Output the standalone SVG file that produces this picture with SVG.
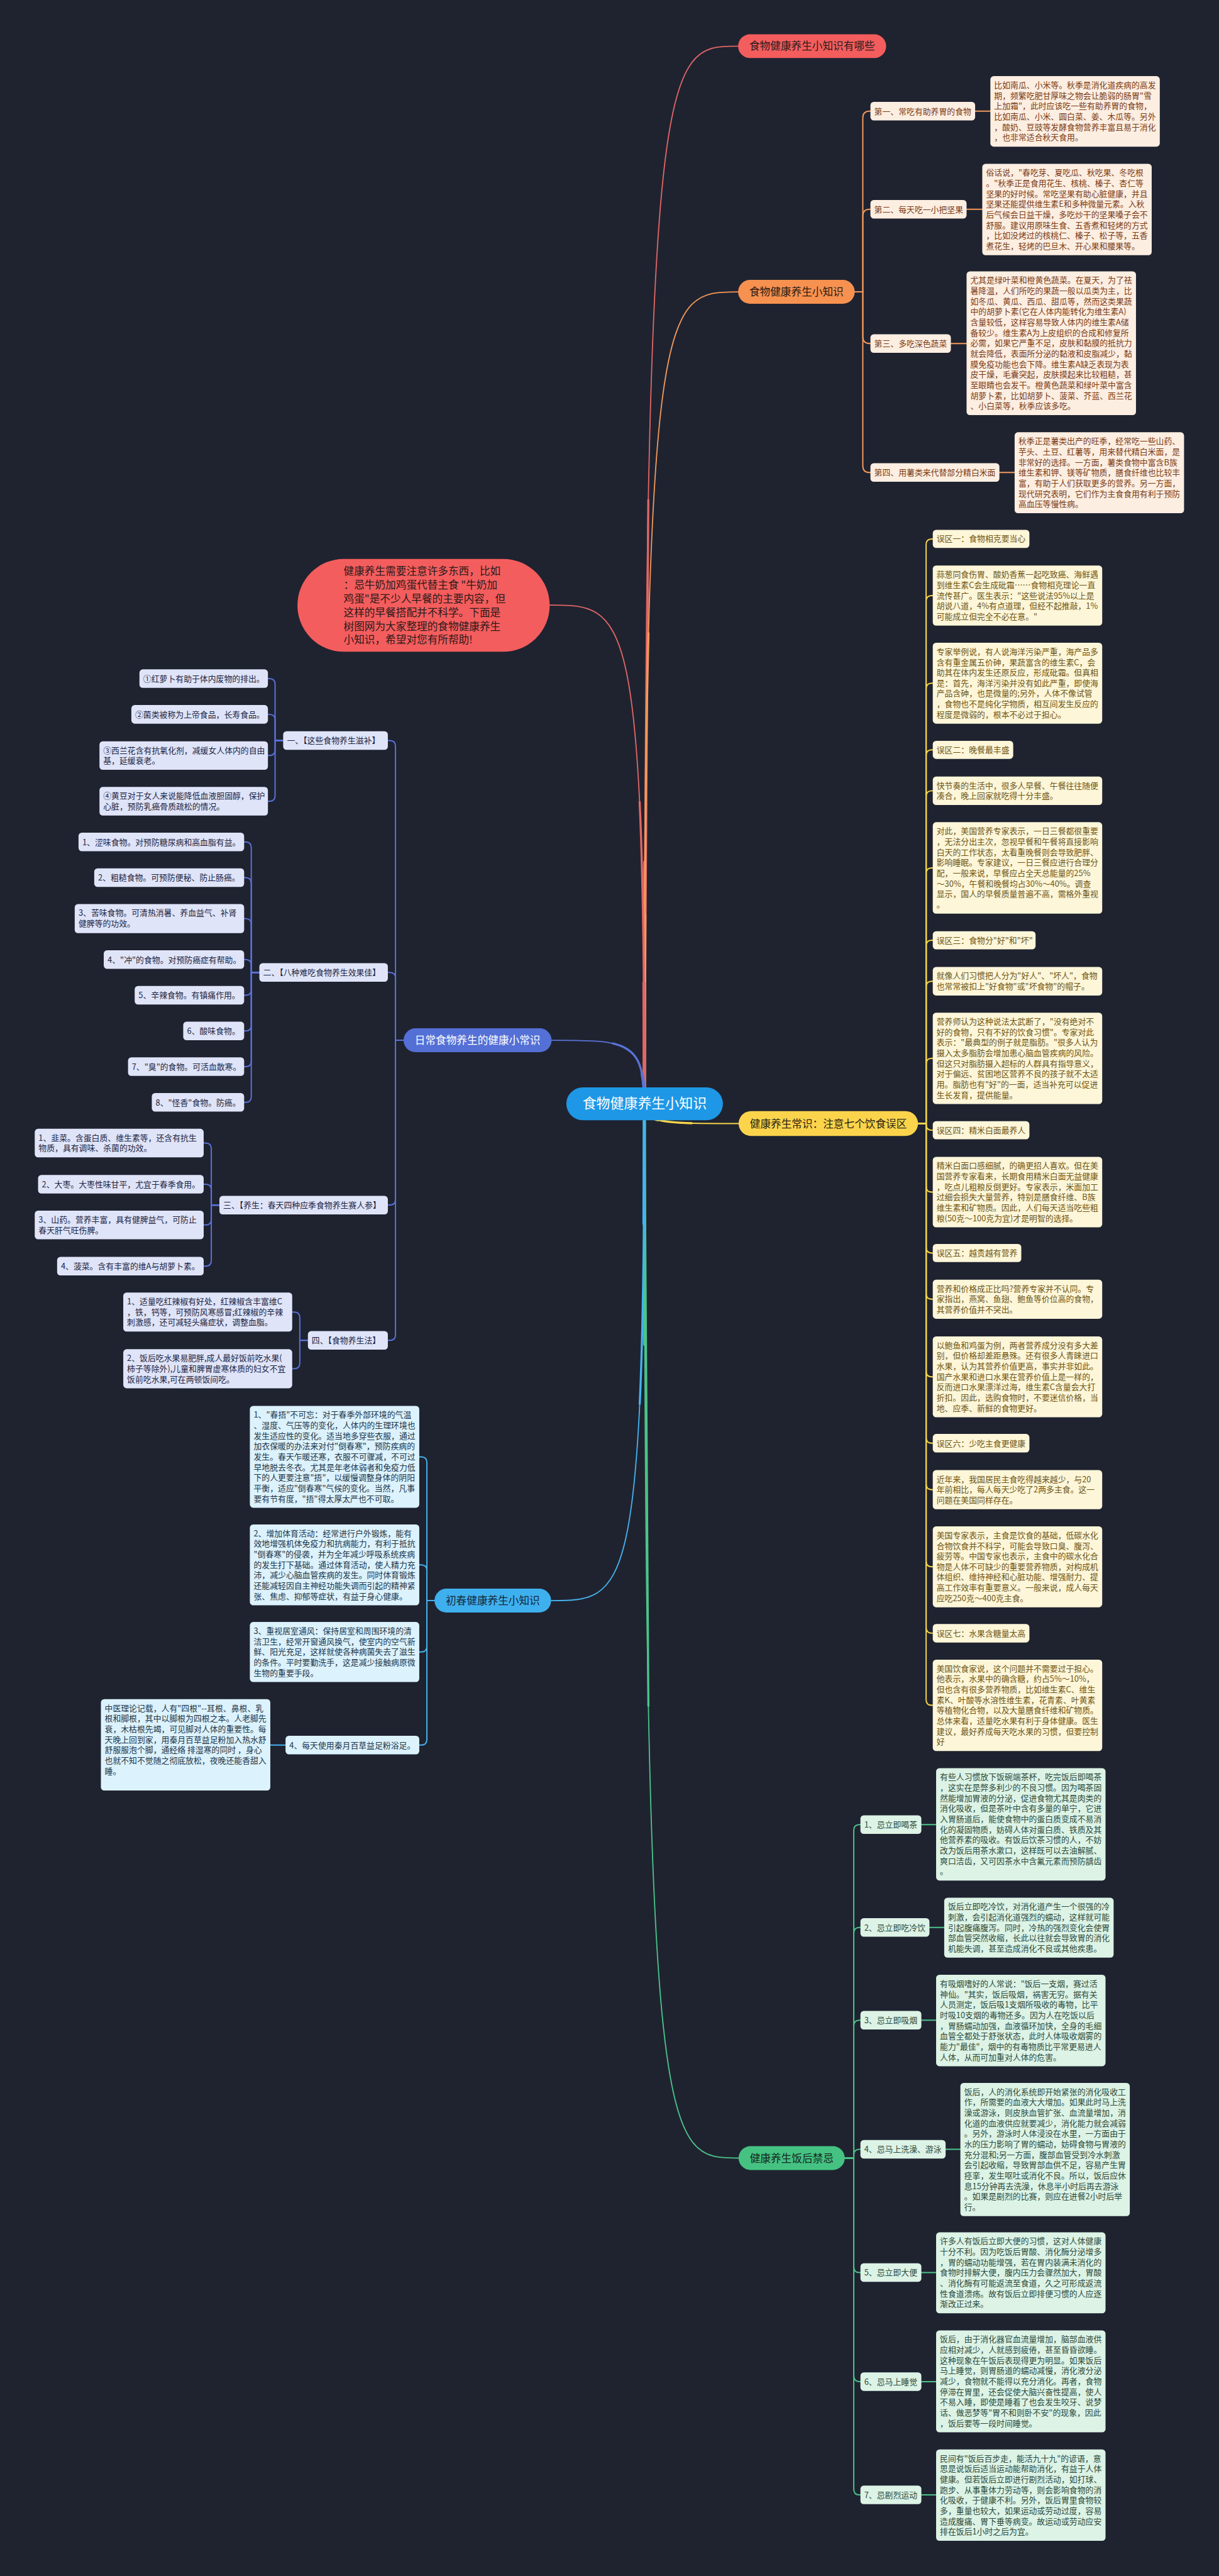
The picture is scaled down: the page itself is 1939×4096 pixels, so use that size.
<svg xmlns="http://www.w3.org/2000/svg" width="1939" height="4096" viewBox="0 0 1939 4096">
<defs>
<style>
text{font-family:"Noto Sans CJK SC","Noto Sans",sans-serif}
.s{font-size:17px}
.m{font-size:22px}
.ln{fill:none;stroke-linecap:round;stroke-linejoin:round}
.L2{stroke-width:2.6}
.w1{stroke-width:2.4}
.w2{stroke-width:4.4;stroke-dasharray:55 200}
.w3{stroke-width:6.5;stroke-dasharray:22 200}
.cr{stroke:#e06666}.co{stroke:#f3995a}.cy{stroke:#f6d54a}.cg{stroke:#4cc489}.cbl{stroke:#5a73d8}.cc{stroke:#45b3ee}
.ob{fill:#fdeee2}.ot{fill:#7a3b12}
.yb{fill:#fdf6d9}.yt{fill:#6d5513}
.gb{fill:#dcf3e6}.gt{fill:#2c4a3b}
.bb{fill:#dfe4f8}.bt{fill:#1d2442}
.cb{fill:#dcf2fd}.ct{fill:#1b3548}
</style>
<path id="m1" pathLength="100" d="M1354 2318 C1354 97 1393 97 1551 97"/>
<path id="m2" pathLength="100" d="M1354 2318 C1354 613 1393 613 1551 613"/>
<path id="m3" pathLength="100" d="M1354 2318 C1354 2360 1394 2360 1552 2360"/>
<path id="m4" pathLength="100" d="M1354 2318 C1354 4533 1394 4533 1552 4533"/>
<path id="m5" pathLength="100" d="M1354 2318 C1354 1271 1314 1271 1155 1271"/>
<path id="m6" pathLength="100" d="M1354 2318 C1354 2185 1315 2185 1159 2185"/>
<path id="m7" pathLength="100" d="M1354 2318 C1354 3362 1315 3362 1158 3362"/>
</defs>
<rect width="1939" height="4096" fill="#1f2330"/>
<g transform="scale(0.757)">
<g id="connectors">
<use href="#m1" class="ln cr w1"/><use href="#m1" class="ln cr w2"/><use href="#m1" class="ln cr w3"/>
<use href="#m2" class="ln co w1"/><use href="#m2" class="ln co w2"/><use href="#m2" class="ln co w3"/>
<use href="#m3" class="ln cy w1"/><use href="#m3" class="ln cy w2"/><use href="#m3" class="ln cy w3"/>
<use href="#m4" class="ln cg w1"/><use href="#m4" class="ln cg w2"/><use href="#m4" class="ln cg w3"/>
<use href="#m5" class="ln cr w1"/><use href="#m5" class="ln cr w2"/><use href="#m5" class="ln cr w3"/>
<use href="#m6" class="ln cbl w1"/><use href="#m6" class="ln cbl w2"/><use href="#m6" class="ln cbl w3"/>
<use href="#m7" class="ln cc w1"/><use href="#m7" class="ln cc w2"/><use href="#m7" class="ln cc w3"/>
<g class="ln L2 co">
<path d="M1796 613 H1813 V247.5 Q1813 233.5 1827 233.5 H1829"/>
<path d="M1796 613 H1813 V453.5 Q1813 439.5 1827 439.5 H1829"/>
<path d="M1796 613 H1813 V707.5 Q1813 721.5 1827 721.5 H1829"/>
<path d="M1796 613 H1813 V978.5 Q1813 992.5 1827 992.5 H1829"/>
<path d="M2049 233.5 H2081 M2031 439.5 H2064 M1998 721.5 H2031 M2100 992.5 H2132"/>
</g>
<g class="ln L2 cy">
<path d="M1929 2360 H1946 V1144 Q1946 1132 1958 1132 H1960"/>
<path d="M1929 2360 H1946 V1263 Q1946 1251 1958 1251 H1960"/>
<path d="M1929 2360 H1946 V1447 Q1946 1435 1958 1435 H1960"/>
<path d="M1929 2360 H1946 V1587 Q1946 1575 1958 1575 H1960"/>
<path d="M1929 2360 H1946 V1673 Q1946 1661 1958 1661 H1960"/>
<path d="M1929 2360 H1946 V1835 Q1946 1823 1958 1823 H1960"/>
<path d="M1929 2360 H1946 V1987 Q1946 1975 1958 1975 H1960"/>
<path d="M1929 2360 H1946 V2073 Q1946 2061 1958 2061 H1960"/>
<path d="M1929 2360 H1946 V2235 Q1946 2223 1958 2223 H1960"/>
<path d="M1929 2360 H1946 V2362 Q1946 2374 1958 2374 H1960"/>
<path d="M1929 2360 H1946 V2492 Q1946 2504 1958 2504 H1960"/>
<path d="M1929 2360 H1946 V2620 Q1946 2632 1958 2632 H1960"/>
<path d="M1929 2360 H1946 V2717 Q1946 2729 1958 2729 H1960"/>
<path d="M1929 2360 H1946 V2880 Q1946 2892 1958 2892 H1960"/>
<path d="M1929 2360 H1946 V3019.5 Q1946 3031.5 1958 3031.5 H1960"/>
<path d="M1929 2360 H1946 V3117 Q1946 3129 1958 3129 H1960"/>
<path d="M1929 2360 H1946 V3279 Q1946 3291 1958 3291 H1960"/>
<path d="M1929 2360 H1946 V3418.5 Q1946 3430.5 1958 3430.5 H1960"/>
<path d="M1929 2360 H1946 V3570 Q1946 3582 1958 3582 H1960"/>
</g>
<g class="ln L2 cg">
<path d="M1775 4533 H1794 V3844.5 Q1794 3832.5 1806 3832.5 H1808"/>
<path d="M1775 4533 H1794 V4060.5 Q1794 4048.5 1806 4048.5 H1808"/>
<path d="M1775 4533 H1794 V4255.5 Q1794 4243.5 1806 4243.5 H1808"/>
<path d="M1775 4533 H1794 V4526.5 Q1794 4514.5 1806 4514.5 H1808"/>
<path d="M1775 4533 H1794 V4761.5 Q1794 4773.5 1806 4773.5 H1808"/>
<path d="M1775 4533 H1794 V4990.5 Q1794 5002.5 1806 5002.5 H1808"/>
<path d="M1775 4533 H1794 V5228.5 Q1794 5240.5 1806 5240.5 H1808"/>
<path d="M1936 3832.5 H1967 M1953 4048.5 H1984 M1936 4243.5 H1967 M1987 4514.5 H2018 M1936 4773.5 H1967 M1936 5002.5 H1967 M1936 5240.5 H1967"/>
</g>
<g class="ln L2 cbl">
<path d="M848 2185 H831 V1567.5 Q831 1555.5 819 1555.5 H815"/>
<path d="M848 2185 H831 V2054.5 Q831 2042.5 819 2042.5 H815"/>
<path d="M848 2185 H831 V2519 Q831 2531 819 2531 H815"/>
<path d="M848 2185 H831 V2803.5 Q831 2815.5 819 2815.5 H815"/>
<path d="M595 1555.5 H578 V1437.5 Q578 1425.5 566 1425.5 H563"/>
<path d="M595 1555.5 H578 V1512.5 Q578 1500.5 566 1500.5 H563"/>
<path d="M595 1555.5 H578 V1575 Q578 1587 566 1587 H563"/>
<path d="M595 1555.5 H578 V1671 Q578 1683 566 1683 H563"/>
<path d="M545 2042.5 H528 V1780.5 Q528 1768.5 516 1768.5 H513"/>
<path d="M545 2042.5 H528 V1855.5 Q528 1843.5 516 1843.5 H513"/>
<path d="M545 2042.5 H528 V1941.5 Q528 1929.5 516 1929.5 H513"/>
<path d="M545 2042.5 H528 V2027.5 Q528 2015.5 516 2015.5 H513"/>
<path d="M545 2042.5 H528 V2078.5 Q528 2090.5 516 2090.5 H513"/>
<path d="M545 2042.5 H528 V2153.5 Q528 2165.5 516 2165.5 H513"/>
<path d="M545 2042.5 H528 V2228.5 Q528 2240.5 516 2240.5 H513"/>
<path d="M545 2042.5 H528 V2303.5 Q528 2315.5 516 2315.5 H513"/>
<path d="M461 2531.5 H444 V2413 Q444 2401 432 2401 H428"/>
<path d="M461 2531.5 H444 V2499.5 Q444 2487.5 432 2487.5 H428"/>
<path d="M461 2531.5 H444 V2561 Q444 2573 432 2573 H428"/>
<path d="M461 2531.5 H444 V2647.5 Q444 2659.5 432 2659.5 H428"/>
<path d="M647 2815.5 H630 V2768 Q630 2756 618 2756 H614"/>
<path d="M647 2815.5 H630 V2863 Q630 2875 618 2875 H614"/>
</g>
<g class="ln L2 cc">
<path d="M913 3362 H897 V3072 Q897 3060 885 3060 H881"/>
<path d="M913 3362 H897 V3299 Q897 3287 885 3287 H881"/>
<path d="M913 3362 H897 V3458 Q897 3470 885 3470 H881"/>
<path d="M913 3362 H897 V3653.5 Q897 3665.5 885 3665.5 H881"/>
<path d="M600 3665.5 H568"/>
</g>
</g>

<g id="center">
<rect x="1190" y="2284" width="329" height="69" rx="34.5" fill="#1e98e6"/>
<text x="1354.5" y="2328" font-size="29" fill="#ffffff" text-anchor="middle">食物健康养生小知识</text>
</g>

<g id="intro">
<rect x="625" y="1174" width="530" height="195" rx="97.5" fill="#f45d5d"/>
<text class="m" fill="#2b1a1a">
<tspan x="722" y="1208">健康养生需要注意许多东西，比如</tspan>
<tspan x="722" y="1237">：忌牛奶加鸡蛋代替主食 "牛奶加</tspan>
<tspan x="722" y="1265">鸡蛋"是不少人早餐的主要内容，但</tspan>
<tspan x="722" y="1294">这样的早餐搭配并不科学。下面是</tspan>
<tspan x="722" y="1323">树图网为大家整理的食物健康养生</tspan>
<tspan x="722" y="1351">小知识，希望对您有所帮助!</tspan>
</text>
</g>

<g id="branch-red">
<rect x="1551" y="72" width="311" height="50" rx="25" fill="#f45d5d"/>
<text class="m" x="1706.5" y="105" text-anchor="middle" fill="#2b1a1a">食物健康养生小知识有哪些</text>
</g>

<g id="branch-orange">
<rect x="1551" y="588" width="245" height="50" rx="25" fill="#f79150"/>
<text class="m" x="1673.5" y="621" text-anchor="middle" fill="#2b1a10">食物健康养生小知识</text>
</g>
<g id="o1l"><rect class="ob" x="1829" y="214" width="220" height="39" rx="7"/><text class="s ot" x="1837" y="240">第一、常吃有助养胃的食物</text></g>
<g id="o1b"><rect class="ob" x="2081" y="160" width="356" height="148" rx="7"/><text class="s ot">
<tspan x="2089" y="185">比如南瓜、小米等。秋季是消化道疾病的高发</tspan>
<tspan x="2089" y="207">期，频繁吃肥甘厚味之物会让脆弱的肠胃"雪</tspan>
<tspan x="2089" y="229">上加霜"，此时应该吃一些有助养胃的食物，</tspan>
<tspan x="2089" y="251">比如南瓜、小米、圆白菜、姜、木瓜等。另外</tspan>
<tspan x="2089" y="273">，酸奶、豆豉等发酵食物营养丰富且易于消化</tspan>
<tspan x="2089" y="295">，也非常适合秋天食用。</tspan></text></g>
<g id="o2l"><rect class="ob" x="1829" y="420" width="202" height="39" rx="7"/><text class="s ot" x="1837" y="446">第二、每天吃一小把坚果</text></g>
<g id="o2b"><rect class="ob" x="2064" y="344" width="356" height="192" rx="7"/><text class="s ot">
<tspan x="2072" y="369">俗话说，"春吃芽、夏吃瓜、秋吃果、冬吃根</tspan>
<tspan x="2072" y="391">。"秋季正是食用花生、核桃、榛子、杏仁等</tspan>
<tspan x="2072" y="413">坚果的好时候。常吃坚果有助心脏健康，并且</tspan>
<tspan x="2072" y="435">坚果还能提供维生素E和多种微量元素。入秋</tspan>
<tspan x="2072" y="457">后气候会日益干燥，多吃炒干的坚果嗓子会不</tspan>
<tspan x="2072" y="479">舒服。建议用原味生食、五香煮和轻烤的方式</tspan>
<tspan x="2072" y="501">，比如没烤过的核桃仁、榛子、松子等，五香</tspan>
<tspan x="2072" y="523">煮花生，轻烤的巴旦木、开心果和腰果等。</tspan></text></g>
<g id="o3l"><rect class="ob" x="1829" y="702" width="169" height="39" rx="7"/><text class="s ot" x="1837" y="728">第三、多吃深色蔬菜</text></g>
<g id="o3b"><rect class="ob" x="2031" y="570" width="356" height="302" rx="7"/><text class="s ot">
<tspan x="2039" y="595">尤其是绿叶菜和橙黄色蔬菜。在夏天，为了祛</tspan>
<tspan x="2039" y="617">暑降温，人们所吃的果蔬一般以瓜类为主，比</tspan>
<tspan x="2039" y="639">如冬瓜、黄瓜、西瓜、甜瓜等，然而这类果蔬</tspan>
<tspan x="2039" y="661">中的胡萝卜素(它在人体内能转化为维生素A)</tspan>
<tspan x="2039" y="683">含量较低，这样容易导致人体内的维生素A储</tspan>
<tspan x="2039" y="705">备较少。维生素A为上皮组织的合成和修复所</tspan>
<tspan x="2039" y="727">必需，如果它严重不足，皮肤和黏膜的抵抗力</tspan>
<tspan x="2039" y="749">就会降低，表面所分泌的黏液和皮脂减少，黏</tspan>
<tspan x="2039" y="771">膜免疫功能也会下降。维生素A缺乏表现为表</tspan>
<tspan x="2039" y="793">皮干燥，毛囊突起，皮肤摸起来比较粗糙，甚</tspan>
<tspan x="2039" y="815">至眼睛也会发干。橙黄色蔬菜和绿叶菜中富含</tspan>
<tspan x="2039" y="837">胡萝卜素，比如胡萝卜、菠菜、芥蓝、西兰花</tspan>
<tspan x="2039" y="859">、小白菜等，秋季应该多吃。</tspan></text></g>
<g id="o4l"><rect class="ob" x="1829" y="973" width="271" height="39" rx="7"/><text class="s ot" x="1837" y="999">第四、用薯类来代替部分精白米面</text></g>
<g id="o4b"><rect class="ob" x="2132" y="908" width="356" height="170" rx="7"/><text class="s ot">
<tspan x="2140" y="933">秋季正是薯类出产的旺季，经常吃一些山药、</tspan>
<tspan x="2140" y="955">芋头、土豆、红薯等，用来替代精白米面，是</tspan>
<tspan x="2140" y="977">非常好的选择。一方面，薯类食物中富含B族</tspan>
<tspan x="2140" y="999">维生素和钾、镁等矿物质，膳食纤维也比较丰</tspan>
<tspan x="2140" y="1021">富，有助于人们获取更多的营养。另一方面，</tspan>
<tspan x="2140" y="1043">现代研究表明，它们作为主食食用有利于预防</tspan>
<tspan x="2140" y="1065">高血压等慢性病。</tspan></text></g>

<g id="branch-yellow">
<rect x="1552" y="2334" width="377" height="52" rx="26" fill="#fbd44c"/>
<text class="m" x="1740.5" y="2368" text-anchor="middle" fill="#2b2410">健康养生常识：注意七个饮食误区</text>
</g>
<g id="y1l"><rect class="yb" x="1960" y="1113" width="203" height="38" rx="7"/><text class="s yt" x="1968" y="1138">误区一：食物相克要当心</text></g>
<g id="y1a"><rect class="yb" x="1960" y="1188" width="356" height="126" rx="7"/><text class="s yt">
<tspan x="1968" y="1213">蒜葱同食伤胃、酸奶香蕉一起吃致癌、海鲜遇</tspan>
<tspan x="1968" y="1235">到维生素C会生成砒霜……食物相克理论一直</tspan>
<tspan x="1968" y="1257">流传甚广。医生表示："这些说法95%以上是</tspan>
<tspan x="1968" y="1279">胡说八道，4%有点道理，但经不起推敲，1%</tspan>
<tspan x="1968" y="1301">可能成立但完全不必在意。"</tspan></text></g>
<g id="y1b"><rect class="yb" x="1960" y="1350" width="356" height="170" rx="7"/><text class="s yt">
<tspan x="1968" y="1375">专家举例说，有人说海洋污染严重，海产品多</tspan>
<tspan x="1968" y="1397">含有重金属五价砷，果蔬富含的维生素C，会</tspan>
<tspan x="1968" y="1419">助其在体内发生还原反应，形成砒霜。但真相</tspan>
<tspan x="1968" y="1441">是：首先，海洋污染并没有如此严重，即使海</tspan>
<tspan x="1968" y="1463">产品含砷，也是微量的;另外，人体不像试管</tspan>
<tspan x="1968" y="1485">，食物也不是纯化学物质，相互间发生反应的</tspan>
<tspan x="1968" y="1507">程度是微弱的，根本不必过于担心。</tspan></text></g>
<g id="y2l"><rect class="yb" x="1960" y="1556" width="169" height="38" rx="7"/><text class="s yt" x="1968" y="1581">误区二：晚餐最丰盛</text></g>
<g id="y2a"><rect class="yb" x="1960" y="1631" width="356" height="60" rx="7"/><text class="s yt">
<tspan x="1968" y="1656">快节奏的生活中，很多人早餐、午餐往往随便</tspan>
<tspan x="1968" y="1678">凑合，晚上回家就吃得十分丰盛。</tspan></text></g>
<g id="y2b"><rect class="yb" x="1960" y="1727" width="356" height="192" rx="7"/><text class="s yt">
<tspan x="1968" y="1752">对此，美国营养专家表示，一日三餐都很重要</tspan>
<tspan x="1968" y="1774">，无法分出主次，忽视早餐和午餐将直接影响</tspan>
<tspan x="1968" y="1796">白天的工作状态，太看重晚餐则会导致肥胖、</tspan>
<tspan x="1968" y="1818">影响睡眠。专家建议，一日三餐应进行合理分</tspan>
<tspan x="1968" y="1840">配，一般来说，早餐应占全天总能量的25%</tspan>
<tspan x="1968" y="1862">～30%，午餐和晚餐均占30%～40%。调查</tspan>
<tspan x="1968" y="1884">显示，国人的早餐质量普遍不高，需格外重视</tspan>
<tspan x="1968" y="1906">。</tspan></text></g>
<g id="y3l"><rect class="yb" x="1960" y="1956" width="216" height="38" rx="7"/><text class="s yt" x="1968" y="1981">误区三：食物分"好"和"坏"</text></g>
<g id="y3a"><rect class="yb" x="1960" y="2031" width="356" height="60" rx="7"/><text class="s yt">
<tspan x="1968" y="2056">就像人们习惯把人分为"好人"、"坏人"，食物</tspan>
<tspan x="1968" y="2078">也常常被扣上"好食物"或"坏食物"的帽子。</tspan></text></g>
<g id="y3b"><rect class="yb" x="1960" y="2127" width="356" height="192" rx="7"/><text class="s yt">
<tspan x="1968" y="2152">营养师认为这种说法太武断了，"没有绝对不</tspan>
<tspan x="1968" y="2174">好的食物，只有不好的饮食习惯"。专家对此</tspan>
<tspan x="1968" y="2196">表示："最典型的例子就是脂肪。"很多人认为</tspan>
<tspan x="1968" y="2218">摄入太多脂肪会增加患心脑血管疾病的风险。</tspan>
<tspan x="1968" y="2240">但这只对脂肪摄入超标的人群具有指导意义，</tspan>
<tspan x="1968" y="2262">对于偏远、贫困地区营养不良的孩子就不太适</tspan>
<tspan x="1968" y="2284">用。脂肪也有"好"的一面，适当补充可以促进</tspan>
<tspan x="1968" y="2306">生长发育，提供能量。</tspan></text></g>
<g id="y4l"><rect class="yb" x="1960" y="2355" width="203" height="38" rx="7"/><text class="s yt" x="1968" y="2380">误区四：精米白面最养人</text></g>
<g id="y4a"><rect class="yb" x="1960" y="2430" width="356" height="148" rx="7"/><text class="s yt">
<tspan x="1968" y="2455">精米白面口感细腻，的确更招人喜欢。但在美</tspan>
<tspan x="1968" y="2477">国营养专家看来，长期食用精米白面无益健康</tspan>
<tspan x="1968" y="2499">，吃点儿粗粮反倒更好。专家表示，米面加工</tspan>
<tspan x="1968" y="2521">过细会损失大量营养，特别是膳食纤维、B族</tspan>
<tspan x="1968" y="2543">维生素和矿物质。因此，人们每天适当吃些粗</tspan>
<tspan x="1968" y="2565">粮(50克～100克为宜)才是明智的选择。</tspan></text></g>
<g id="y5l"><rect class="yb" x="1960" y="2613" width="186" height="38" rx="7"/><text class="s yt" x="1968" y="2638">误区五：越贵越有营养</text></g>
<g id="y5a"><rect class="yb" x="1960" y="2688" width="356" height="82" rx="7"/><text class="s yt">
<tspan x="1968" y="2713">营养和价格成正比吗?营养专家并不认同。专</tspan>
<tspan x="1968" y="2735">家指出，燕窝、鱼翅、鲍鱼等价位高的食物，</tspan>
<tspan x="1968" y="2757">其营养价值并不突出。</tspan></text></g>
<g id="y5b"><rect class="yb" x="1960" y="2807" width="356" height="170" rx="7"/><text class="s yt">
<tspan x="1968" y="2832">以鲍鱼和鸡蛋为例，两者营养成分没有多大差</tspan>
<tspan x="1968" y="2854">别，但价格却差距悬殊。还有很多人青睐进口</tspan>
<tspan x="1968" y="2876">水果，认为其营养价值更高，事实并非如此。</tspan>
<tspan x="1968" y="2898">国产水果和进口水果在营养价值上是一样的，</tspan>
<tspan x="1968" y="2920">反而进口水果漂洋过海，维生素C含量会大打</tspan>
<tspan x="1968" y="2942">折扣。因此，选购食物时，不要迷信价格，当</tspan>
<tspan x="1968" y="2964">地、应季、新鲜的食物更好。</tspan></text></g>
<g id="y6l"><rect class="yb" x="1960" y="3012" width="203" height="39" rx="7"/><text class="s yt" x="1968" y="3038">误区六：少吃主食更健康</text></g>
<g id="y6a"><rect class="yb" x="1960" y="3088" width="356" height="82" rx="7"/><text class="s yt">
<tspan x="1968" y="3113">近年来，我国居民主食吃得越来越少，与20</tspan>
<tspan x="1968" y="3135">年前相比，每人每天少吃了2两多主食。这一</tspan>
<tspan x="1968" y="3157">问题在美国同样存在。</tspan></text></g>
<g id="y6b"><rect class="yb" x="1960" y="3206" width="356" height="170" rx="7"/><text class="s yt">
<tspan x="1968" y="3231">美国专家表示，主食是饮食的基础，低碳水化</tspan>
<tspan x="1968" y="3253">合物饮食并不科学，可能会导致口臭、腹泻、</tspan>
<tspan x="1968" y="3275">疲劳等。中国专家也表示，主食中的碳水化合</tspan>
<tspan x="1968" y="3297">物是人体不可缺少的重要营养物质，对构成机</tspan>
<tspan x="1968" y="3319">体组织、维持神经和心脏功能、增强耐力、提</tspan>
<tspan x="1968" y="3341">高工作效率有重要意义。一般来说，成人每天</tspan>
<tspan x="1968" y="3363">应吃250克～400克主食。</tspan></text></g>
<g id="y7l"><rect class="yb" x="1960" y="3411" width="203" height="39" rx="7"/><text class="s yt" x="1968" y="3437">误区七：水果含糖量太高</text></g>
<g id="y7a"><rect class="yb" x="1960" y="3486" width="356" height="192" rx="7"/><text class="s yt">
<tspan x="1968" y="3511">美国饮食家说，这个问题并不需要过于担心。</tspan>
<tspan x="1968" y="3533">他表示，水果中的确含糖，约占5%～10%，</tspan>
<tspan x="1968" y="3555">但也含有很多营养物质，比如维生素C、维生</tspan>
<tspan x="1968" y="3577">素K、叶酸等水溶性维生素，花青素、叶黄素</tspan>
<tspan x="1968" y="3599">等植物化合物，以及大量膳食纤维和矿物质。</tspan>
<tspan x="1968" y="3621">总体来看，适量吃水果有利于身体健康。医生</tspan>
<tspan x="1968" y="3643">建议，最好养成每天吃水果的习惯，但要控制</tspan>
<tspan x="1968" y="3665">好</tspan></text></g>

<g id="branch-green">
<rect x="1552" y="4508" width="223" height="50" rx="25" fill="#45c282"/>
<text class="m" x="1663.5" y="4541" text-anchor="middle" fill="#14281d">健康养生饭后禁忌</text>
</g>
<g id="g1l"><rect class="gb" x="1808" y="3813" width="128" height="39" rx="7"/><text class="s gt" x="1816" y="3839">1、忌立即喝茶</text></g>
<g id="g1b"><rect class="gb" x="1967" y="3714" width="356" height="236" rx="7"/><text class="s gt">
<tspan x="1975" y="3739">有些人习惯放下饭碗端茶杯，吃完饭后即喝茶</tspan>
<tspan x="1975" y="3761">，这实在是弊多利少的不良习惯。因为喝茶固</tspan>
<tspan x="1975" y="3783">然能增加胃液的分泌，促进食物尤其是肉类的</tspan>
<tspan x="1975" y="3805">消化吸收，但是茶叶中含有多量的单宁，它进</tspan>
<tspan x="1975" y="3827">入胃肠道后，能使食物中的蛋白质变成不易消</tspan>
<tspan x="1975" y="3849">化的凝固物质，妨碍人体对蛋白质、铁质及其</tspan>
<tspan x="1975" y="3871">他营养素的吸收。有饭后饮茶习惯的人，不妨</tspan>
<tspan x="1975" y="3893">改为饭后用茶水漱口，这样既可以去油解腻、</tspan>
<tspan x="1975" y="3915">爽口洁齿，又可因茶水中含氟元素而预防龋齿</tspan>
<tspan x="1975" y="3937">。</tspan></text></g>
<g id="g2l"><rect class="gb" x="1808" y="4029" width="145" height="39" rx="7"/><text class="s gt" x="1816" y="4055">2、忌立即吃冷饮</text></g>
<g id="g2b"><rect class="gb" x="1984" y="3986" width="356" height="126" rx="7"/><text class="s gt">
<tspan x="1992" y="4011">饭后立即吃冷饮，对消化道产生一个很强的冷</tspan>
<tspan x="1992" y="4033">刺激，会引起消化道强烈的蠕动，这样就可能</tspan>
<tspan x="1992" y="4055">引起腹痛腹泻。同时，冷热的强烈变化会使胃</tspan>
<tspan x="1992" y="4077">部血管突然收缩，长此以往就会导致胃的消化</tspan>
<tspan x="1992" y="4099">机能失调，甚至造成消化不良或其他疾患。</tspan></text></g>
<g id="g3l"><rect class="gb" x="1808" y="4224" width="128" height="39" rx="7"/><text class="s gt" x="1816" y="4250">3、忌立即吸烟</text></g>
<g id="g3b"><rect class="gb" x="1967" y="4148" width="356" height="192" rx="7"/><text class="s gt">
<tspan x="1975" y="4173">有吸烟嗜好的人常说："饭后一支烟，赛过活</tspan>
<tspan x="1975" y="4195">神仙。"其实，饭后吸烟，祸害无穷。据有关</tspan>
<tspan x="1975" y="4217">人员测定，饭后吸1支烟所吸收的毒物，比平</tspan>
<tspan x="1975" y="4239">时吸10支烟的毒物还多。因为人在吃饭以后</tspan>
<tspan x="1975" y="4261">，胃肠蠕动加强，血液循环加快，全身的毛细</tspan>
<tspan x="1975" y="4283">血管全都处于舒张状态，此时人体吸收烟雾的</tspan>
<tspan x="1975" y="4305">能力"最佳"，烟中的有毒物质比平常更易进人</tspan>
<tspan x="1975" y="4327">人体，从而可加重对人体的危害。</tspan></text></g>
<g id="g4l"><rect class="gb" x="1808" y="4495" width="179" height="39" rx="7"/><text class="s gt" x="1816" y="4521">4、忌马上洗澡、游泳</text></g>
<g id="g4b"><rect class="gb" x="2018" y="4375" width="356" height="280" rx="7"/><text class="s gt">
<tspan x="2026" y="4400">饭后，人的消化系统即开始紧张的消化吸收工</tspan>
<tspan x="2026" y="4422">作，所需要的血液大大增加。如果此时马上洗</tspan>
<tspan x="2026" y="4444">澡或游泳，则皮肤血管扩张、血流量增加，消</tspan>
<tspan x="2026" y="4466">化道的血液供应就要减少，消化能力就会减弱</tspan>
<tspan x="2026" y="4488">。另外，游泳时人体浸没在水里，一方面由于</tspan>
<tspan x="2026" y="4510">水的压力影响了胃的蠕动，妨碍食物与胃液的</tspan>
<tspan x="2026" y="4532">充分混和;另一方面，腹部血管受到冷水刺激</tspan>
<tspan x="2026" y="4554">会引起收缩，导致胃部血供不足，容易产生胃</tspan>
<tspan x="2026" y="4576">痉挛，发生呕吐或消化不良。所以，饭后应休</tspan>
<tspan x="2026" y="4598">息15分钟再去洗澡，休息半小时后再去游泳</tspan>
<tspan x="2026" y="4620">。如果是剧烈的比赛，则应在进餐2小时后举</tspan>
<tspan x="2026" y="4642">行。</tspan></text></g>
<g id="g5l"><rect class="gb" x="1808" y="4754" width="128" height="39" rx="7"/><text class="s gt" x="1816" y="4780">5、忌立即大便</text></g>
<g id="g5b"><rect class="gb" x="1967" y="4689" width="356" height="170" rx="7"/><text class="s gt">
<tspan x="1975" y="4714">许多人有饭后立即大便的习惯，这对人体健康</tspan>
<tspan x="1975" y="4736">十分不利。因为吃饭后胃酸、消化酶分泌增多</tspan>
<tspan x="1975" y="4758">，胃的蠕动功能增强，若在胃内装满未消化的</tspan>
<tspan x="1975" y="4780">食物时排解大便，腹内压力会骤然加大，胃酸</tspan>
<tspan x="1975" y="4802">、消化酶有可能返流至食道，久之可形成返流</tspan>
<tspan x="1975" y="4824">性食道溃疡。故有饭后立即排便习惯的人应逐</tspan>
<tspan x="1975" y="4846">渐改正过来。</tspan></text></g>
<g id="g6l"><rect class="gb" x="1808" y="4983" width="128" height="39" rx="7"/><text class="s gt" x="1816" y="5009">6、忌马上睡觉</text></g>
<g id="g6b"><rect class="gb" x="1967" y="4895" width="356" height="214" rx="7"/><text class="s gt">
<tspan x="1975" y="4920">饭后，由于消化器官血流量增加，脑部血液供</tspan>
<tspan x="1975" y="4942">应相对减少，人就感到疲倦，甚至昏昏欲睡。</tspan>
<tspan x="1975" y="4964">这种现象在午饭后表现得更为明显。如果饭后</tspan>
<tspan x="1975" y="4986">马上睡觉，则胃肠道的蠕动减慢，消化液分泌</tspan>
<tspan x="1975" y="5008">减少，食物就不能得以充分消化。再者，食物</tspan>
<tspan x="1975" y="5030">停滞在胃里，还会促使大脑兴奋性提高，使人</tspan>
<tspan x="1975" y="5052">不易入睡，即使是睡着了也会发生咬牙、说梦</tspan>
<tspan x="1975" y="5074">话、做恶梦等"胃不和则卧不安"的现象，因此</tspan>
<tspan x="1975" y="5096">，饭后要等一段时间睡觉。</tspan></text></g>
<g id="g7l"><rect class="gb" x="1808" y="5221" width="128" height="39" rx="7"/><text class="s gt" x="1816" y="5247">7、忌剧烈运动</text></g>
<g id="g7b"><rect class="gb" x="1967" y="5145" width="356" height="192" rx="7"/><text class="s gt">
<tspan x="1975" y="5170">民间有"饭后百步走，能活九十九"的谚语，意</tspan>
<tspan x="1975" y="5192">思是说饭后适当运动能帮助消化，有益于人体</tspan>
<tspan x="1975" y="5214">健康。但若饭后立即进行剧烈活动，如打球、</tspan>
<tspan x="1975" y="5236">跑步、从事重体力劳动等，则会影响食物的消</tspan>
<tspan x="1975" y="5258">化吸收，于健康不利。另外，饭后胃里食物较</tspan>
<tspan x="1975" y="5280">多，重量也较大，如果运动或劳动过度，容易</tspan>
<tspan x="1975" y="5302">造成腹痛、胃下垂等病变。故运动或劳动应安</tspan>
<tspan x="1975" y="5324">排在饭后1小时之后为宜。</tspan></text></g>

<g id="branch-blue">
<rect x="848" y="2160" width="311" height="50" rx="25" fill="#5470d6"/>
<text class="m" x="1003.5" y="2193" text-anchor="middle" fill="#ffffff">日常食物养生的健康小常识</text>
</g>
<g id="b1"><rect class="bb" x="595" y="1536" width="220" height="39" rx="7"/><text class="s bt" x="603" y="1562">一、【这些食物养生滋补】</text></g>
<g id="b1a"><rect class="bb" x="293" y="1406" width="270" height="39" rx="7"/><text class="s bt" x="301" y="1432">①红萝卜有助于体内废物的排出。</text></g>
<g id="b1b"><rect class="bb" x="276" y="1481" width="287" height="39" rx="7"/><text class="s bt" x="284" y="1507">②菌类被称为上帝食品，长寿食品。</text></g>
<g id="b1c"><rect class="bb" x="209" y="1557" width="354" height="60" rx="7"/><text class="s bt"><tspan x="217" y="1582">③西兰花含有抗氧化剂，减缓女人体内的自由</tspan><tspan x="217" y="1604">基，延缓衰老。</tspan></text></g>
<g id="b1d"><rect class="bb" x="209" y="1653" width="354" height="60" rx="7"/><text class="s bt"><tspan x="217" y="1678">④黄豆对于女人来说能降低血液胆固醇，保护</tspan><tspan x="217" y="1700">心脏，预防乳癌骨质疏松的情况。</tspan></text></g>
<g id="b2"><rect class="bb" x="545" y="2023" width="270" height="39" rx="7"/><text class="s bt" x="553" y="2049">二、【八种难吃食物养生效果佳】</text></g>
<g id="b2a"><rect class="bb" x="165" y="1749" width="348" height="39" rx="7"/><text class="s bt" x="173" y="1775">1、涩味食物。对预防糖尿病和高血脂有益。</text></g>
<g id="b2b"><rect class="bb" x="198" y="1824" width="315" height="39" rx="7"/><text class="s bt" x="206" y="1850">2、粗糙食物。可预防便秘、防止肠癌。</text></g>
<g id="b2c"><rect class="bb" x="157" y="1899" width="356" height="61" rx="7"/><text class="s bt"><tspan x="165" y="1924">3、苦味食物。可清热消暑、养血益气、补肾</tspan><tspan x="165" y="1946">健脾等的功效。</tspan></text></g>
<g id="b2d"><rect class="bb" x="218" y="1996" width="295" height="39" rx="7"/><text class="s bt" x="226" y="2022">4、"冲"的食物。对预防癌症有帮助。</text></g>
<g id="b2e"><rect class="bb" x="283" y="2071" width="230" height="39" rx="7"/><text class="s bt" x="291" y="2097">5、辛辣食物。有镇痛作用。</text></g>
<g id="b2f"><rect class="bb" x="385" y="2146" width="128" height="39" rx="7"/><text class="s bt" x="393" y="2172">6、酸味食物。</text></g>
<g id="b2g"><rect class="bb" x="269" y="2221" width="244" height="39" rx="7"/><text class="s bt" x="277" y="2247">7、"臭"的食物。可活血散寒。</text></g>
<g id="b2h"><rect class="bb" x="319" y="2296" width="194" height="39" rx="7"/><text class="s bt" x="327" y="2322">8、"怪香"食物。防癌。</text></g>
<g id="b3"><rect class="bb" x="461" y="2512" width="354" height="39" rx="7"/><text class="s bt" x="469" y="2538">三、【养生：春天四种应季食物养生赛人参】</text></g>
<g id="b3a"><rect class="bb" x="73" y="2371" width="355" height="60" rx="7"/><text class="s bt"><tspan x="81" y="2396">1、韭菜。含蛋白质、维生素等，还含有抗生</tspan><tspan x="81" y="2418">物质，具有调味、杀菌的功效。</tspan></text></g>
<g id="b3b"><rect class="bb" x="80" y="2468" width="348" height="39" rx="7"/><text class="s bt" x="88" y="2494">2、大枣。大枣性味甘平，尤宜于春季食用。</text></g>
<g id="b3c"><rect class="bb" x="73" y="2543" width="355" height="60" rx="7"/><text class="s bt"><tspan x="81" y="2568">3、山药。营养丰富，具有健脾益气，可防止</tspan><tspan x="81" y="2590">春天肝气旺伤脾。</tspan></text></g>
<g id="b3d"><rect class="bb" x="120" y="2640" width="308" height="39" rx="7"/><text class="s bt" x="128" y="2666">4、菠菜。含有丰富的维A与胡萝卜素。</text></g>
<g id="b4"><rect class="bb" x="647" y="2796" width="168" height="39" rx="7"/><text class="s bt" x="655" y="2822">四、【食物养生法】</text></g>
<g id="b4a"><rect class="bb" x="259" y="2715" width="355" height="82" rx="7"/><text class="s bt"><tspan x="267" y="2740">1、适量吃红辣椒有好处，红辣椒含丰富维C</tspan><tspan x="267" y="2762">，铁，钙等，可预防风寒感冒;红辣椒的辛辣</tspan><tspan x="267" y="2784">刺激感，还可减轻头痛症状，调整血脂。</tspan></text></g>
<g id="b4b"><rect class="bb" x="259" y="2834" width="355" height="82" rx="7"/><text class="s bt"><tspan x="267" y="2859">2、饭后吃水果易肥胖,成人最好饭前吃水果(</tspan><tspan x="267" y="2881">柿子等除外),儿童和脾胃虚寒体质的妇女不宜</tspan><tspan x="267" y="2903">饭前吃水果,可在两顿饭间吃。</tspan></text></g>

<g id="branch-cyan">
<rect x="913" y="3337" width="245" height="50" rx="25" fill="#3fb0ee"/>
<text class="m" x="1035.5" y="3370" text-anchor="middle" fill="#14283a">初春健康养生小知识</text>
</g>
<g id="c1"><rect class="cb" x="525" y="2953" width="356" height="214" rx="7"/><text class="s ct">
<tspan x="533" y="2978">1、"春捂"不可忘：对于春季外部环境的气温</tspan>
<tspan x="533" y="3000">、湿度、气压等的变化，人体内的生理环境也</tspan>
<tspan x="533" y="3022">发生适应性的变化。适当地多穿些衣服，通过</tspan>
<tspan x="533" y="3044">加衣保暖的办法来对付"倒春寒"，预防疾病的</tspan>
<tspan x="533" y="3066">发生。春天乍暖还寒，衣服不可骤减，不可过</tspan>
<tspan x="533" y="3088">早地脱去冬衣。尤其是年老体弱者和免疫力低</tspan>
<tspan x="533" y="3110">下的人更要注意"捂"，以缓慢调整身体的阴阳</tspan>
<tspan x="533" y="3132">平衡，适应"倒春寒"气候的变化。当然，凡事</tspan>
<tspan x="533" y="3154">要有节有度，"捂"得太厚太严也不可取。</tspan></text></g>
<g id="c2"><rect class="cb" x="525" y="3202" width="356" height="170" rx="7"/><text class="s ct">
<tspan x="533" y="3227">2、增加体育活动：经常进行户外锻炼，能有</tspan>
<tspan x="533" y="3249">效地增强机体免疫力和抗病能力，有利于抵抗</tspan>
<tspan x="533" y="3271">"倒春寒"的侵袭，并为全年减少呼吸系统疾病</tspan>
<tspan x="533" y="3293">的发生打下基础。通过体育活动，使人精力充</tspan>
<tspan x="533" y="3315">沛，减少心脑血管疾病的发生。同时体育锻炼</tspan>
<tspan x="533" y="3337">还能减轻因自主神经功能失调而引起的精神紧</tspan>
<tspan x="533" y="3359">张、焦虑、抑郁等症状，有益于身心健康。</tspan></text></g>
<g id="c3"><rect class="cb" x="525" y="3407" width="356" height="126" rx="7"/><text class="s ct">
<tspan x="533" y="3432">3、重视居室通风：保持居室和周围环境的清</tspan>
<tspan x="533" y="3454">洁卫生，经常开窗通风换气，使室内的空气新</tspan>
<tspan x="533" y="3476">鲜、阳光充足，这样就使各种病菌失去了滋生</tspan>
<tspan x="533" y="3498">的条件。平时要勤洗手，这是减少接触病原微</tspan>
<tspan x="533" y="3520">生物的重要手段。</tspan></text></g>
<g id="c4"><rect class="cb" x="600" y="3646" width="281" height="39" rx="7"/><text class="s ct" x="608" y="3672">4、每天使用秦月百草益足粉浴足。</text></g>
<g id="c4a"><rect class="cb" x="212" y="3569" width="356" height="192" rx="7"/><text class="s ct">
<tspan x="220" y="3594">中医理论记载，人有"四根"--耳根、鼻根、乳</tspan>
<tspan x="220" y="3616">根和脚根，其中以脚根为四根之本。人老脚先</tspan>
<tspan x="220" y="3638">衰，木枯根先竭，可见脚对人体的重要性。每</tspan>
<tspan x="220" y="3660">天晚上回到家，用秦月百草益足粉加入热水舒</tspan>
<tspan x="220" y="3682">舒服服泡个脚，通经络 排湿寒的同时 ，身心</tspan>
<tspan x="220" y="3704">也就不知不觉随之彻底放松，夜晚还能香甜入</tspan>
<tspan x="220" y="3726">睡。</tspan></text></g>
</g>
</svg>
